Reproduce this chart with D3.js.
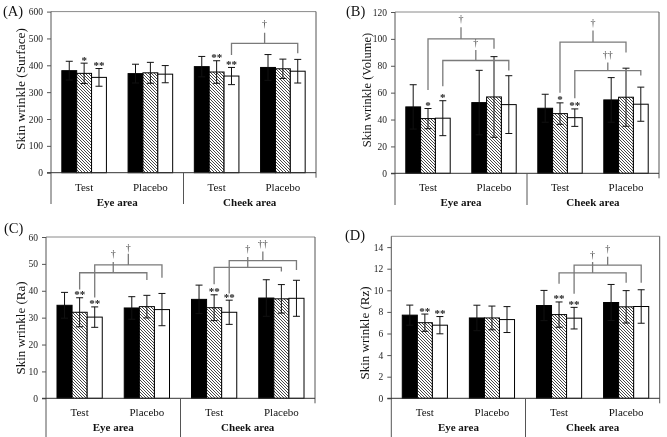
<!DOCTYPE html>
<html><head><meta charset="utf-8">
<script src="https://cdn.jsdelivr.net/npm/d3@7"></script>
<style>body{margin:0;background:#fff}svg{display:block;will-change:transform}text{opacity:0.999}</style>
</head><body>
<script>
// ---- data ----
const categories = ["Test", "Placebo", "Test", "Placebo"];
const areas = ["Eye area", "Cheek area"];
const seriesNames = ["Before", "Week 4", "Week 8"];

const surfaceMean = [[380, 370, 355], [369, 372, 367], [395, 375, 360], [392, 387, 378]];
const surfaceSD   = [[35, 38, 33], [35, 39, 32], [38, 42, 32], [48, 36, 44]];
const surfaceTicks = [0, 100, 200, 300, 400, 500, 600];

const volumeMean = [[49.4, 40.7, 41.0], [52.6, 56.8, 51.1], [48.4, 44.4, 41.4], [54.6, 56.6, 51.4]];
const volumeSD   = [[16.5, 7.5, 13], [24, 30, 21.5], [10.4, 8, 6.5], [16.6, 21.6, 12.7]];
const volumeTicks = [0, 20, 40, 60, 80, 100, 120];

const raMean = [[34.6, 32.0, 30.2], [33.6, 34.1, 33.0], [36.8, 33.7, 32.0], [37.3, 37.0, 37.2]];
const raSD   = [[4.8, 5.4, 3.8], [4.2, 4.2, 6.0], [5.3, 4.8, 4.5], [6.8, 5.3, 6.7]];
const raTicks = [0, 10, 20, 30, 40, 50, 60];

const rzMean = [[7.70, 7.00, 6.77], [7.44, 7.44, 7.29], [8.59, 7.75, 7.42], [8.87, 8.47, 8.50]];
const rzSD   = [[0.93, 0.80, 0.80], [1.18, 1.10, 1.20], [1.40, 1.17, 1.00], [1.67, 1.50, 1.55]];
const rzTicks = [0, 2, 4, 6, 8, 10, 12, 14];

// significance marks: [category, series, text]
const surfaceStars = [[0, 1, "*"], [0, 2, "**"], [2, 1, "**"], [2, 2, "**"]];
const volumeStars  = [[0, 1, "*"], [0, 2, "*"], [2, 1, "*"], [2, 2, "**"]];
const raStars      = [[0, 1, "**"], [0, 2, "**"], [2, 1, "**"], [2, 2, "**"]];
const rzStars      = [[0, 1, "**"], [0, 2, "**"], [2, 1, "**"], [2, 2, "**"]];

// brackets (values in data units): from [cat, series] to [cat, series]
const surfaceBrackets = [
  {from: [2, 2], to: [3, 2], level: 482, leftEnd: 438, rightEnd: 445, stem: 521, mark: 556, text: "†"}
];
const volumeBrackets = [
  {from: [0, 1], to: [1, 1], level: 100, leftEnd: 62, rightEnd: 92.6, stem: 108.7, mark: 115, text: "†"},
  {from: [0, 2], to: [1, 2], level: 83.9, leftEnd: 64.8, rightEnd: 76.4, stem: 91.8, mark: 97.6, text: "†"},
  {from: [2, 1], to: [3, 1], level: 97.6, leftEnd: 60, rightEnd: 89.8, stem: 106.2, mark: 112, text: "†"},
  {from: [2, 2], to: [3, 2], level: 76.4, leftEnd: 55.9, rightEnd: 72.7, stem: 82.4, mark: 88.6, text: "††"}
];
const raBrackets = [
  {from: [0, 1], to: [1, 1], level: 46.7, leftEnd: 40.5, rightEnd: 44, stem: 50.7, mark: 54, text: "†"},
  {from: [0, 2], to: [1, 2], level: 49.6, leftEnd: 37.5, rightEnd: 44.8, stem: 53.8, mark: 56.1, text: "†"},
  {from: [2, 1], to: [3, 1], level: 48.7, leftEnd: 42.4, rightEnd: 47.2, stem: 52.6, mark: 55.6, text: "†"},
  {from: [2, 2], to: [3, 2], level: 51.2, leftEnd: 39, rightEnd: 47.7, stem: 54.6, mark: 57.7, text: "††"}
];
const rzBrackets = [
  {from: [2, 1], to: [3, 1], level: 11.62, leftEnd: 10.6, rightEnd: 10.69, stem: 12.61, mark: 13.31, text: "†"},
  {from: [2, 2], to: [3, 2], level: 12.33, leftEnd: 9.67, rightEnd: 10.69, stem: 13.1, mark: 13.87, text: "†"}
];

// ---- drawing ----
const W = 667, H = 437;
const FONT = "'Liberation Serif','Times New Roman',serif";
const svg = d3.select("body").append("svg").attr("width", W).attr("height", H)
  .style("font-family", FONT);

const defs = svg.append("defs");
const pat = defs.append("pattern").attr("id", "hatch").attr("patternUnits", "userSpaceOnUse")
  .attr("width", 3).attr("height", 3);
pat.append("rect").attr("width", 3).attr("height", 3).attr("fill", "#fff");
pat.append("path").attr("d", "M-1,2 l2,2 M0,0 l3,3 M2,-1 l2,2")
  .attr("stroke", "#333").attr("stroke-width", 0.9);

const fills = ["#000", "url(#hatch)", "#fff"];

function drawPanel(cfg) {
  const g = svg.append("g");
  const x0 = d3.scaleBand().domain(d3.range(categories.length))
    .range([cfg.left, cfg.right]).paddingInner(0.327).paddingOuter(0.1635);
  const x1 = d3.scaleBand().domain(d3.range(seriesNames.length)).range([0, x0.bandwidth()]);
  const y = d3.scaleLinear().domain([0, cfg.max]).range([cfg.base, cfg.top]);
  const cx = (c, s) => x0(c) + x1(s) + x1.bandwidth() / 2;

  // frame: top and right
  g.append("line").attr("x1", cfg.left).attr("x2", cfg.right).attr("y1", cfg.top).attr("y2", cfg.top)
    .attr("stroke", "#8a8a8a").attr("stroke-width", 1);
  g.append("line").attr("x1", cfg.right).attr("x2", cfg.right).attr("y1", cfg.top).attr("y2", cfg.base + 5)
    .attr("stroke", "#555").attr("stroke-width", 1);

  // bars
  cfg.mean.forEach((row, c) => {
    row.forEach((v, s) => {
      g.append("rect").attr("x", x0(c) + x1(s)).attr("width", x1.bandwidth())
        .attr("y", y(v)).attr("height", y(0) - y(v))
        .attr("fill", fills[s]).attr("stroke", "#000").attr("stroke-width", 1);
    });
  });
  // error bars
  cfg.mean.forEach((row, c) => {
    row.forEach((v, s) => {
      const sd = cfg.sd[c][s], x = cx(c, s);
      const col = "#111";
      g.append("line").attr("x1", x).attr("x2", x).attr("y1", y(v - sd)).attr("y2", y(v + sd))
        .attr("stroke", col).attr("stroke-width", 1);
      [v - sd, v + sd].forEach(e => g.append("line").attr("x1", x - 3.5).attr("x2", x + 3.5)
        .attr("y1", y(e)).attr("y2", y(e)).attr("stroke", col).attr("stroke-width", 1));
    });
  });
  // stars
  cfg.stars.forEach(([c, s, t]) => {
    g.append("text").attr("x", cx(c, s)).attr("y", y(cfg.mean[c][s] + cfg.sd[c][s]) + 0.5)
      .attr("text-anchor", "middle").attr("font-size", 11).attr("font-weight", "bold")
      .attr("fill", "#222").text(t);
  });
  // brackets
  cfg.brackets.forEach(b => {
    const xl = cx(b.from[0], b.from[1]), xr = cx(b.to[0], b.to[1]), xm = (xl + xr) / 2;
    const p = `M${xl},${y(b.leftEnd)} V${y(b.level)} H${xr} V${y(b.rightEnd)} M${xm},${y(b.level)} V${y(b.stem)}`;
    g.append("path").attr("d", p).attr("fill", "none").attr("stroke", "#7a7a7a").attr("stroke-width", 1.3);
    g.append("text").attr("x", xm).attr("y", y(b.mark) + 3.5).attr("text-anchor", "middle")
      .attr("font-size", 10).attr("fill", "#444").text(b.text);
  });

  // y axis
  const ax = g.append("g").attr("transform", `translate(${cfg.left},0)`)
    .call(d3.axisLeft(y).tickValues(cfg.ticks).tickSize(4).tickPadding(4).tickSizeOuter(0));
  ax.select(".domain").remove();
  ax.selectAll(".tick line").attr("stroke", "#555");
  ax.selectAll(".tick text").attr("font-size", 9.5).attr("font-family", FONT).attr("fill", "#222");
  g.append("line").attr("x1", cfg.left).attr("x2", cfg.left).attr("y1", cfg.top).attr("y2", cfg.bottom)
    .attr("stroke", "#555").attr("stroke-width", 1);
  // x axis
  g.append("line").attr("x1", cfg.left - 4).attr("x2", cfg.right).attr("y1", cfg.base).attr("y2", cfg.base)
    .attr("stroke", "#333").attr("stroke-width", 1);
  const mid = (cfg.left + cfg.right) / 2;
  g.append("line").attr("x1", mid).attr("x2", mid).attr("y1", cfg.base).attr("y2", cfg.bottom)
    .attr("stroke", "#555").attr("stroke-width", 1);
  categories.forEach((name, c) => {
    g.append("text").attr("x", x0(c) + x0.bandwidth() / 2).attr("y", cfg.base + 18)
      .attr("text-anchor", "middle").attr("font-size", 11).attr("fill", "#111").text(name);
  });
  areas.forEach((name, i) => {
    g.append("text").attr("x", cfg.left + (cfg.right - cfg.left) * (i * 2 + 1) / 4).attr("y", cfg.base + 33)
      .attr("text-anchor", "middle").attr("font-size", 11).attr("font-weight", "bold")
      .attr("fill", "#111").text(name);
  });
  // y label
  g.append("text").attr("transform", `translate(${cfg.ylx},${cfg.yly}) rotate(-90)`)
    .attr("text-anchor", "middle").attr("dominant-baseline", "central")
    .attr("font-size", cfg.ylSize).attr("fill", "#111").text(cfg.ylabel);
  // panel letter
  g.append("text").attr("x", cfg.plx).attr("y", cfg.ply).attr("font-size", 14.5)
    .attr("fill", "#111").text(cfg.letter);
}

drawPanel({left: 51, right: 316, top: 11.6, base: 172.7, bottom: 204, max: 600, ticks: surfaceTicks,
  mean: surfaceMean, sd: surfaceSD, stars: surfaceStars, brackets: surfaceBrackets,
  ylabel: "Skin wrinkle (Surface)", ylx: 20, yly: 89, ylSize: 13.4, letter: "(A)", plx: 3, ply: 16});
drawPanel({left: 395, right: 659, top: 12, base: 173.3, bottom: 205, max: 120, ticks: volumeTicks,
  mean: volumeMean, sd: volumeSD, stars: volumeStars, brackets: volumeBrackets,
  ylabel: "Skin wrinkle (Volume)", ylx: 367, yly: 90, ylSize: 12.5, letter: "(B)", plx: 346, ply: 16});
drawPanel({left: 46, right: 315, top: 237, base: 398.3, bottom: 437, max: 60, ticks: raTicks,
  mean: raMean, sd: raSD, stars: raStars, brackets: raBrackets,
  ylabel: "Skin wrinkle (Ra)", ylx: 20, yly: 328, ylSize: 13, letter: "(C)", plx: 4, ply: 233});
drawPanel({left: 391.3, right: 659.7, top: 236.3, base: 398.3, bottom: 437, max: 15, ticks: rzTicks,
  mean: rzMean, sd: rzSD, stars: rzStars, brackets: rzBrackets,
  ylabel: "Skin wrinkle (Rz)", ylx: 364, yly: 333, ylSize: 13, letter: "(D)", plx: 345, ply: 240});
</script>
</body></html>
